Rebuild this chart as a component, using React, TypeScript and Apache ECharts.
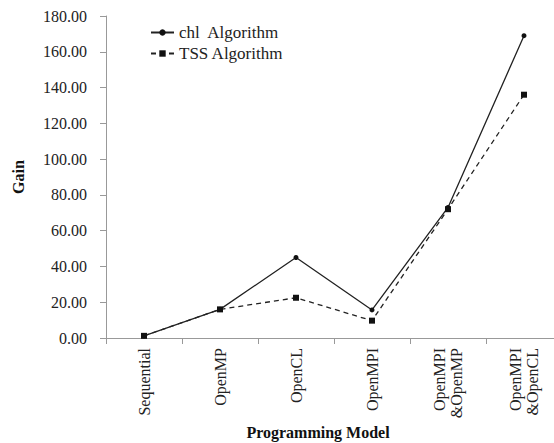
import React, { useEffect, useRef } from "react";
import * as echarts from "echarts";

const categories = ["Sequential", "OpenMP", "OpenCL", "OpenMPI", "OpenMPI\n&OpenMP", "OpenMPI\n&OpenCL"];
const chlValues = [1.2, 16, 45, 15.7, 73, 169];
const tssValues = [1.2, 16, 22.5, 9.7, 72, 136];
const seriesNames = ["chl  Algorithm", "TSS Algorithm"];

export default function App() {
  const ref = useRef<HTMLDivElement>(null);
  useEffect(() => {
    const chart = echarts.init(ref.current!, null, { renderer: "svg" });
    const font = "'Times New Roman', 'Liberation Serif', serif";
    chart.setOption({
      animation: false,
      backgroundColor: "#fff",
      textStyle: { fontFamily: font },
      grid: { left: 106, right: -8, top: 16, bottom: 105, containLabel: false, outerBoundsMode: "none" },
      legend: {
        left: 145,
        top: 19,
        orient: "vertical",
        itemWidth: 23,
        itemHeight: 8,
        itemGap: 4,
        textStyle: { fontFamily: font, fontSize: 17, color: "#222", lineHeight: 16 },
        data: seriesNames,
      },
      xAxis: {
        type: "category",
        data: categories,
        boundaryGap: true,
        name: "Programming Model",
        nameLocation: "middle",
        nameGap: 86,
        nameMoveOverlap: false,
        nameTextStyle: { fontFamily: font, fontSize: 16, fontWeight: "bold", color: "#111", padding: [0, 32, 0, 0] },
        axisLine: { lineStyle: { color: "#999", width: 1 } },
        axisTick: { show: true, alignWithLabel: false, length: 6, lineStyle: { color: "#999" } },
        axisLabel: { rotate: 90, fontFamily: font, fontSize: 16, color: "#222", margin: 10, lineHeight: 17, interval: 0 },
      },
      yAxis: {
        type: "value",
        min: 0,
        max: 180,
        interval: 20,
        name: "Gain",
        nameLocation: "middle",
        nameGap: 80,
        nameMoveOverlap: false,
        nameRotate: 90,
        nameTextStyle: { fontFamily: font, fontSize: 16, fontWeight: "bold", color: "#111" },
        axisLine: { show: true, lineStyle: { color: "#999", width: 1 } },
        axisTick: { show: true, length: 6, lineStyle: { color: "#999" } },
        splitLine: { show: false },
        axisLabel: {
          fontFamily: font,
          fontSize: 16,
          color: "#222",
          margin: 19,
          formatter: (v: number) => v.toFixed(2),
        },
      },
      series: [
        {
          name: seriesNames[0],
          type: "line",
          data: chlValues,
          symbol: "circle",
          symbolSize: 5,
          itemStyle: { color: "#111" },
          lineStyle: { color: "#222", width: 1.3, type: "solid" },
        },
        {
          name: seriesNames[1],
          type: "line",
          data: tssValues,
          symbol: "rect",
          symbolSize: 6,
          itemStyle: { color: "#111" },
          lineStyle: { color: "#222", width: 1.3, type: [5, 4] },
        },
      ],
    });
    return () => chart.dispose();
  }, []);
  return <div ref={ref} style={{ width: 554, height: 443, position: "absolute", left: 0, top: 0 }} />;
}
